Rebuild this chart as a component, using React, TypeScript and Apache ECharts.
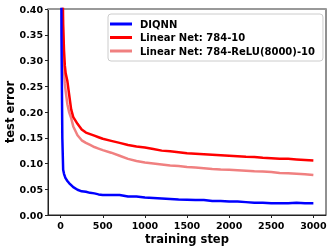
import React, { useEffect, useRef } from "react";
import * as echarts from "echarts";

const steps = [0, 10, 20, 30, 40, 50, 60, 80, 100, 125, 150, 200, 250, 300, 350, 400, 450, 500, 600, 700, 800, 900, 1000, 1100, 1200, 1300, 1400, 1500, 1600, 1700, 1800, 1900, 2000, 2100, 2200, 2300, 2400, 2500, 2600, 2700, 2800, 2900, 3000];

const diqnn = [0.9, 0.35, 0.15, 0.088, 0.08, 0.075, 0.071, 0.066, 0.062, 0.058, 0.054, 0.049, 0.046, 0.045, 0.043, 0.042, 0.040, 0.039, 0.039, 0.039, 0.036, 0.036, 0.034, 0.033, 0.032, 0.031, 0.030, 0.0295, 0.029, 0.029, 0.027, 0.027, 0.026, 0.026, 0.025, 0.024, 0.024, 0.023, 0.023, 0.023, 0.024, 0.023, 0.023];

const linear = [1.5, 0.9, 0.5, 0.37, 0.32, 0.29, 0.275, 0.26, 0.235, 0.205, 0.19, 0.177, 0.166, 0.160, 0.157, 0.154, 0.151, 0.148, 0.144, 0.140, 0.136, 0.133, 0.131, 0.128, 0.125, 0.124, 0.122, 0.120, 0.119, 0.118, 0.117, 0.116, 0.115, 0.114, 0.113, 0.1125, 0.111, 0.110, 0.109, 0.109, 0.108, 0.107, 0.106];

const relu = [1.2, 0.7, 0.45, 0.33, 0.28, 0.255, 0.24, 0.215, 0.2, 0.188, 0.172, 0.155, 0.145, 0.14, 0.136, 0.132, 0.129, 0.126, 0.121, 0.115, 0.109, 0.105, 0.102, 0.100, 0.098, 0.096, 0.095, 0.093, 0.092, 0.091, 0.0895, 0.0885, 0.088, 0.087, 0.086, 0.085, 0.0845, 0.0835, 0.0815, 0.081, 0.080, 0.079, 0.0775];

const seriesNames = ["DIQNN", "Linear Net: 784-10", "Linear Net: 784-ReLU(8000)-10"];
const seriesColors = ["#0000ff", "#ff0000", "#f08080"];
const xTicks = [0, 500, 1000, 1500, 2000, 2500, 3000];

const FONT = "DejaVu Sans";

export default function App() {
  const ref = useRef<HTMLDivElement>(null);
  useEffect(() => {
    if (!ref.current) return;
    const chart = echarts.init(ref.current, undefined, { renderer: "svg" });
    const all = [diqnn, linear, relu];
    chart.setOption({
      animation: false,
      grid: { left: 48, right: 6, top: 9, bottom: 35, show: true, borderColor: "#222", borderWidth: 1, containLabel: false, outerBoundsMode: "none" },
      legend: {
        orient: "vertical",
        left: 108,
        top: 14,
        padding: [4, 8, 4, 2],
        itemGap: 1.5,
        itemWidth: 22,
        itemHeight: 3,
        icon: "rect",
        backgroundColor: "#fff",
        borderColor: "#ccc",
        borderWidth: 1,
        borderRadius: 3,
        textStyle: { fontFamily: FONT, fontWeight: "bold", fontSize: 10, color: "#000", lineHeight: 12, padding: [0, 0, 0, 3] },
        data: seriesNames,
      },
      xAxis: [
        {
          type: "value",
          min: -150,
          max: 3150,
          name: "training step",
          nameLocation: "middle",
          nameGap: 18,
          nameMoveOverlap: false,
          nameTextStyle: { fontFamily: FONT, fontWeight: "bold", fontSize: 11.5, color: "#000", verticalAlign: "top" },
          splitLine: { show: false },
          axisLine: { show: true, onZero: false, lineStyle: { color: "#222", width: 1 } },
          axisTick: { show: true, length: 3, lineStyle: { color: "#222" }, customValues: xTicks },
          axisLabel: { fontFamily: FONT, fontWeight: "bold", fontSize: 9.5, color: "#000", margin: 5, customValues: xTicks, formatter: (v: number) => String(v) },
        },
        {
          type: "value",
          position: "top",
          min: -150,
          max: 3150,
          splitLine: { show: false },
          axisLine: { show: true, onZero: false, lineStyle: { color: "#999", width: 2 } },
          axisTick: { show: false },
          axisLabel: { show: false },
        },
      ],
      yAxis: {
        type: "value",
        min: 0,
        max: 0.4,
        interval: 0.05,
        name: "test error",
        nameLocation: "middle",
        nameGap: 32,
        nameMoveOverlap: false,
        nameTextStyle: { fontFamily: FONT, fontWeight: "bold", fontSize: 11.5, color: "#000" },
        splitLine: { show: false },
        axisLine: { show: true, onZero: false, lineStyle: { color: "#222", width: 1 } },
        axisTick: { show: true, length: 3, lineStyle: { color: "#222" } },
        axisLabel: { fontFamily: FONT, fontWeight: "bold", fontSize: 9.5, color: "#000", margin: 5, formatter: (v: number) => v.toFixed(2) },
      },
      series: seriesNames.map((name, i) => ({
        name,
        type: "line",
        showSymbol: false,
        symbol: "none",
        clip: true,
        color: seriesColors[i],
        lineStyle: { width: 2.5, color: seriesColors[i] },
        data: steps.map((s, j) => [s, all[i][j]]),
        z: 3 - i,
      })),
    });
    return () => chart.dispose();
  }, []);
  return <div ref={ref} style={{ position: "fixed", left: 0, top: 0, width: 332, height: 250 }} />;
}
